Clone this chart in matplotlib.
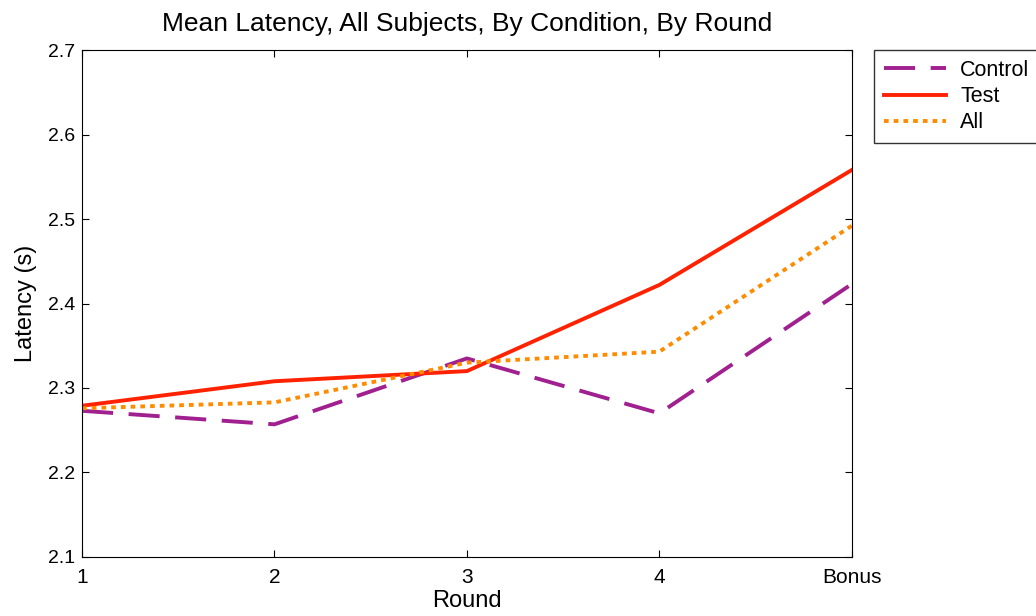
import matplotlib.pyplot as plt

plt.rcParams['font.family'] = ['Liberation Sans', 'DejaVu Sans']

rounds = [1, 2, 3, 4, 5]
round_labels = ["1", "2", "3", "4", "Bonus"]
control = [2.273, 2.257, 2.335, 2.270, 2.423]
test = [2.279, 2.308, 2.320, 2.422, 2.558]
all_subj = [2.276, 2.283, 2.330, 2.343, 2.492]

fig = plt.figure(figsize=(10.36, 6.16), dpi=100)
ax = fig.add_axes([0.0792, 0.0958, 0.743, 0.823])

ax.plot(rounds, control, color="#A0208F", lw=2.8, ls=(0, (8, 4)), label="Control")
ax.plot(rounds, test, color="#FF2200", lw=2.8, label="Test")
ax.plot(rounds, all_subj, color="#FF8C00", lw=2.8, ls=(0, (1.2, 1.3)), label="All")

ax.set_xlim(1, 5)
ax.set_ylim(2.1, 2.7)
ax.set_xticks(rounds)
ax.set_xticklabels(round_labels)
ax.set_yticks([2.1, 2.2, 2.3, 2.4, 2.5, 2.6, 2.7])
ax.tick_params(direction="in", top=True, right=True, labelsize=14, length=5, pad=5)
ax.tick_params(axis="x", labelsize=15, pad=8)
ax.set_xlabel("Round", fontsize=17, labelpad=2)
ax.set_ylabel("Latency (s)", fontsize=17, labelpad=8)
ax.set_title("Mean Latency, All Subjects, By Condition, By Round", fontsize=19, pad=14)

fig.legend(loc="upper left", bbox_to_anchor=(874 / 1036, 1 - 50 / 616),
           fontsize=15.5, frameon=True, fancybox=False, edgecolor="black",
           handlelength=2.9, handletextpad=0.65, borderaxespad=0,
           labelspacing=0.25, borderpad=0.45)

fig.savefig("out.png", dpi=100)
